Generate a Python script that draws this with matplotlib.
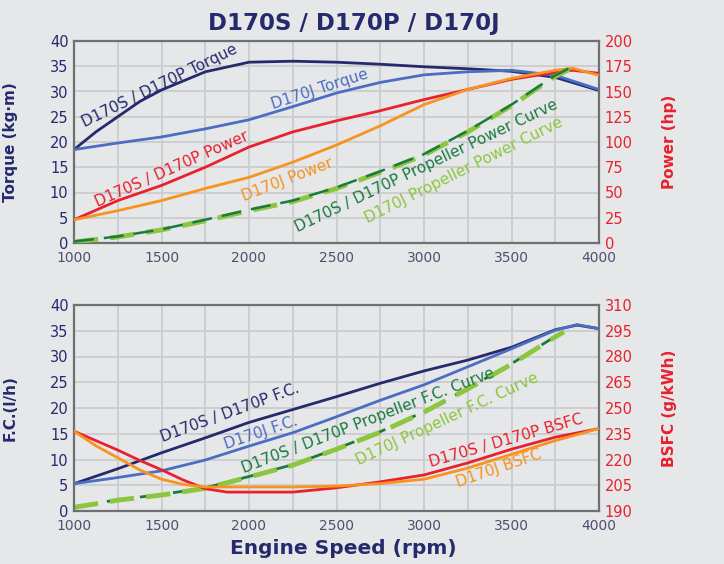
import matplotlib
matplotlib.use('Agg')
import matplotlib.pyplot as plt

# ---- data ----
# top panel: torque (kg-m, left axis) and power (hp, right axis)
rpm_tq_sp = [1000, 1125, 1250, 1375, 1500, 1750, 2000, 2250, 2500, 2750, 3000, 3250, 3500, 3750, 4000]
torque_sp = [18.5, 22.0, 25.0, 28.0, 30.3, 33.9, 35.8, 36.0, 35.8, 35.4, 34.9, 34.5, 34.0, 32.8, 30.2]
rpm_tq_j = [1000, 1250, 1500, 1750, 2000, 2250, 2500, 2750, 3000, 3250, 3500, 3750, 4000]
torque_j = [18.5, 19.8, 21.0, 22.6, 24.4, 27.0, 29.7, 31.8, 33.3, 33.9, 34.2, 33.2, 30.4]

rpm_pw = [1000, 1250, 1500, 1750, 2000, 2250, 2500, 2750, 3000, 3250, 3500, 3750, 3850, 4000]
power_sp = [23, 42, 57, 75, 95, 110, 121, 131, 142, 152, 162, 169, 171, 168]
power_j = [23, 32, 42, 54, 65, 80, 97, 116, 137, 152, 163, 171, 173, 166]

rpm_prop = [1000, 1250, 1500, 1750, 2000, 2250, 2500, 2750, 3000, 3250, 3500, 3750, 3830]
prop_power_sp = [1.5, 6.5, 13.5, 23, 33, 42, 55, 71, 88, 111, 137, 166, 173]
prop_power_j = [1, 6, 13, 22, 32, 41, 54, 70, 87, 110, 136, 165, 172]

# bottom panel: fuel consumption (l/h, left axis) and BSFC (g/kWh, right axis)
rpm_fc = [1000, 1250, 1500, 1750, 2000, 2250, 2500, 2750, 3000, 3250, 3500, 3750, 3875, 4000]
fc_sp = [5.3, 8.2, 11.3, 14.2, 17.2, 19.7, 22.2, 24.8, 27.2, 29.3, 31.8, 35.2, 36.1, 35.4]
fc_j = [5.3, 6.5, 7.8, 9.9, 12.6, 15.2, 18.3, 21.5, 24.5, 28.0, 31.5, 35.1, 36.2, 35.4]

rpm_pfc = [1000, 1250, 1500, 1750, 2000, 2250, 2500, 2750, 3000, 3250, 3500, 3750, 3800]
prop_fc_sp = [0.8, 2.2, 3.2, 4.5, 6.7, 9.0, 12.1, 15.4, 19.3, 23.8, 28.6, 33.9, 34.9]
prop_fc_j = [0.7, 2.1, 3.1, 4.4, 6.6, 8.9, 12.0, 15.3, 19.2, 23.7, 28.5, 33.8, 34.8]

rpm_bsfc_sp = [1000, 1125, 1250, 1375, 1500, 1625, 1750, 1875, 2000, 2250, 2500, 2750, 3000, 3250, 3500, 3750, 4000]
bsfc_sp = [236.5, 231, 225.5, 219.5, 214, 208, 203, 201, 201, 201, 203.5, 207, 211, 218, 226, 233, 238]
rpm_bsfc_j = [1000, 1125, 1250, 1375, 1500, 1625, 1750, 2000, 2250, 2500, 2750, 3000, 3250, 3500, 3750, 4000]
bsfc_j = [236.5, 228, 221, 214, 208.5, 205.5, 204, 204, 204, 204.5, 206, 208.5, 215, 223, 231, 238]

x_ticks = [1000, 1500, 2000, 2500, 3000, 3500, 4000]
left_ticks = [0, 5, 10, 15, 20, 25, 30, 35, 40]
power_ticks = [0, 25, 50, 75, 100, 125, 150, 175, 200]
bsfc_ticks = [190, 205, 220, 235, 250, 265, 280, 295, 310]

NAVY = '#242a6c'
BLUE = '#4b6dc2'
RED = '#e8212e'
ORANGE = '#f7931e'
DKGREEN = '#1b7a3f'
LTGREEN = '#8cc63f'
BG = '#e6e7e9'
TICKGRAY = '#4d5170'

fig = plt.figure(figsize=(7.24, 5.64), dpi=100, facecolor=BG)
ax1 = fig.add_axes([74/724, 1-243/564, 525/724, 202/564])
ax3 = fig.add_axes([74/724, 1-511/564, 525/724, 206/564])


def style(ax, rax, rticks, lab_l, lab_r):
    ax.set_facecolor(BG)
    ax.set_xlim(1000, 4000)
    ax.set_ylim(0, 40)
    ax.set_xticks(x_ticks)
    ax.set_xticks(range(1250, 4000, 500), minor=True)
    ax.set_yticks(left_ticks)
    ax.grid(True, which='both', color='#cbccce', lw=1.3)
    ax.set_axisbelow(True)
    for s in ax.spines.values():
        s.set_color('#6f7073')
        s.set_linewidth(1.6)
    for s in rax.spines.values():
        s.set_visible(False)
    ax.tick_params(axis='both', which='both', length=0)
    ax.tick_params(axis='x', labelsize=10, labelcolor=TICKGRAY, pad=6)
    ax.tick_params(axis='y', labelsize=10.5, labelcolor=NAVY, pad=4)
    rax.set_yticks(rticks)
    rax.set_ylim(rticks[0], rticks[-1])
    rax.tick_params(axis='y', length=0, labelsize=10.5, labelcolor=RED, pad=4)
    ax.set_ylabel(lab_l, color=NAVY, fontsize=11, fontweight='bold')
    ax.yaxis.set_label_coords(-0.107, 0.5)
    rax.set_ylabel(lab_r, color=RED, fontsize=11, fontweight='bold')
    rax.yaxis.set_label_coords(1.12, 0.5)


def label(ax, px, py, txt, color, rot, top):
    # position given in pixels of the reference, converted to data units
    x = 1000 + (px - 74) / 525 * 3000
    if top:
        y = (243 - py) / 202 * 40
    else:
        y = (511 - py) / 206 * 40
    ax.text(x, y, txt, color=color, fontsize=11, rotation=rot,
            ha='center', va='center', rotation_mode='anchor', zorder=6)


# ---- top panel ----
ax2 = ax1.twinx()
style(ax1, ax2, power_ticks, 'Torque (kg·m)', 'Power (hp)')
ax1.plot(rpm_tq_sp, torque_sp, color=NAVY, lw=2)
ax1.plot(rpm_tq_j, torque_j, color=BLUE, lw=2)
ax2.plot(rpm_pw, power_sp, color=RED, lw=2)
ax2.plot(rpm_pw, power_j, color=ORANGE, lw=2)
ax2.plot(rpm_prop, prop_power_j, color=LTGREEN, lw=3.5, dashes=(5, 2.5))
ax2.plot(rpm_prop, prop_power_sp, color=DKGREEN, lw=1.8, dashes=(8, 4), dash_capstyle='butt')

label(ax1, 160, 86, 'D170S / D170P Torque', NAVY, 26, True)
label(ax1, 320, 89, 'D170J Torque', BLUE, 18, True)
label(ax1, 172, 169, 'D170S / D170P Power', RED, 24, True)
label(ax1, 287, 180, 'D170J Power', ORANGE, 21, True)
label(ax1, 426, 166, 'D170S / D170P Propeller Power Curve', DKGREEN, 25.5, True)
label(ax1, 464, 170, 'D170J Propeller Power Curve', LTGREEN, 26.5, True)

# ---- bottom panel ----
ax4 = ax3.twinx()
style(ax3, ax4, bsfc_ticks, 'F.C.(l/h)', 'BSFC (g/kWh)')
ax3.plot(rpm_fc, fc_sp, color=NAVY, lw=2)
ax3.plot(rpm_fc, fc_j, color=BLUE, lw=2)
ax3.plot(rpm_pfc, prop_fc_sp, color=DKGREEN, lw=2, dashes=(8, 4))
ax3.plot(rpm_pfc, prop_fc_j, color=LTGREEN, lw=3.5, dashes=(5, 2.5))
ax4.plot(rpm_bsfc_sp, bsfc_sp, color=RED, lw=2)
ax4.plot(rpm_bsfc_j, bsfc_j, color=ORANGE, lw=2)

label(ax3, 230, 413, 'D170S / D170P F.C.', NAVY, 20, False)
label(ax3, 261, 433, 'D170J F.C.', BLUE, 18.5, False)
label(ax3, 368, 421, 'D170S / D170P Propeller F.C. Curve', DKGREEN, 21, False)
label(ax3, 447, 419, 'D170J Propeller F.C. Curve', LTGREEN, 25, False)
label(ax3, 506, 441, 'D170S / D170P BSFC', RED, 16, False)
label(ax3, 499, 468, 'D170J BSFC', ORANGE, 19, False)

fig.text(354/724, 1-23.5/564, 'D170S / D170P / D170J', color=NAVY,
         fontsize=16.5, fontweight='bold', ha='center', va='center')
fig.text(343/724, 1-549/564, 'Engine Speed (rpm)', color=NAVY,
         fontsize=14.5, fontweight='bold', ha='center', va='center')

fig.savefig('out.png', dpi=100, facecolor=BG)
